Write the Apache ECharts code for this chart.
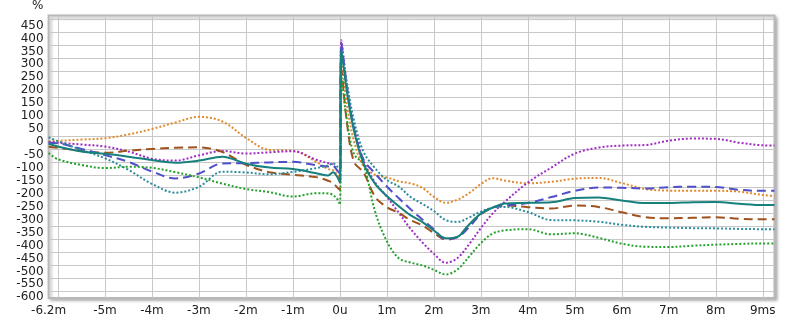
<!DOCTYPE html>
<html><head><meta charset="utf-8">
<script src="https://cdn.jsdelivr.net/npm/echarts@6/dist/echarts.min.js"></script>
<style>html,body{margin:0;padding:0;background:#fff}#c{width:800px;height:322px}</style>
</head><body><div id="c"></div>
<script>
const times = [-6.2, -6, -5.5, -5, -4.5, -4, -3.5, -3, -2.5, -2, -1.5, -1, -0.5, -0.25, -0.15, -0.05, 0, 0.03, 0.15, 0.3, 0.5, 0.75, 1, 1.25, 1.5, 1.75, 2, 2.25, 2.5, 2.75, 3, 3.25, 3.5, 4, 4.5, 5, 5.5, 6, 6.5, 7, 7.5, 8, 8.5, 9, 9.25];
const orangeDotted = [-22, -19, -14, -9, 6, 27, 52, 74, 56, -7, -54, -57, -100, -128, -131, -152, -158, 290, 120, -20, -115, -150, -160, -175, -183, -200, -235, -258, -246, -221, -186, -163, -172, -183, -177, -165, -162, -182, -205, -211, -212, -212, -215, -228, -232];
const purpleDotted = [-22, -26, -33, -41, -60, -88, -95, -75, -58, -68, -63, -59, -92, -105, -110, -135, -140, 370, 200, 40, -95, -180, -235, -296, -358, -410, -455, -490, -472, -418, -356, -300, -256, -180, -122, -68, -45, -37, -35, -18, -10, -11, -26, -36, -37];
const brownDashed = [-42, -46, -57, -65, -57, -50, -45, -44, -62, -111, -140, -150, -159, -173, -182, -200, -208, 260, 50, -100, -140, -235, -275, -297, -325, -345, -375, -400, -390, -343, -302, -277, -268, -275, -280, -269, -274, -295, -314, -318, -316, -314, -320, -322, -322];
const blueDashed = [-26, -28, -50, -74, -100, -137, -164, -145, -106, -105, -102, -100, -113, -118, -115, -135, -145, 360, 190, 30, -90, -145, -195, -240, -282, -322, -360, -398, -392, -352, -302, -275, -269, -259, -236, -212, -199, -200, -203, -198, -196, -197, -208, -212, -212];
const tealSolid = [-30, -41, -60, -69, -80, -93, -103, -95, -80, -107, -122, -128, -144, -153, -140, -160, -180, 335, 170, 20, -105, -185, -232, -271, -306, -332, -365, -395, -390, -342, -300, -277, -261, -258, -256, -240, -238, -249, -259, -259, -256, -255, -262, -267, -267];
const tealDotted = [-5, -20, -54, -86, -131, -185, -219, -196, -138, -141, -148, -139, -124, -114, -106, -120, -130, 320, 200, 60, -60, -125, -170, -195, -235, -262, -290, -325, -332, -315, -292, -277, -274, -294, -325, -326, -331, -343, -351, -354, -356, -357, -359, -360, -360];
const greenDotted = [-66, -90, -112, -124, -119, -123, -140, -160, -184, -205, -217, -234, -221, -222, -228, -245, -265, 230, 60, -70, -110, -293, -407, -472, -489, -500, -517, -535, -516, -466, -414, -377, -365, -360, -380, -376, -393, -416, -428, -429, -424, -420, -417, -415, -415];

const xLabelValues = [-6.2, -5, -4, -3, -2, -1, 0, 1, 2, 3, 4, 5, 6, 7, 8, 9];
const xLabelTexts = ['-6.2m', '-5m', '-4m', '-3m', '-2m', '-1m', '0u', '1m', '2m', '3m', '4m', '5m', '6m', '7m', '8m', '9ms'];
const xGridValues = [-6, -5, -4, -3, -2, -1, 0, 1, 2, 3, 4, 5, 6, 7, 8, 9];
const yTickValues = [-600, -550, -500, -450, -400, -350, -300, -250, -200, -150, -100, -50, 0, 50, 100, 150, 200, 250, 300, 350, 400, 450];
const yUnit = '%';

const FONT = 'DejaVu Sans';
function pts(vals) { return times.map((t, i) => [t, vals[i]]); }
function mk(name, vals, color, dash, z) {
  return {
    name, type: 'line', data: pts(vals), showSymbol: false, symbol: 'none',
    smooth: 0.35, z: z || 2,
    lineStyle: { color, width: 2, type: dash, cap: 'butt' }
  };
}
const DOT = [2, 2];
const DASH = [9, 5];

const chart = echarts.init(document.getElementById('c'), null, { renderer: 'canvas' });
chart.setOption({
  animation: false,
  backgroundColor: '#fff',
  grid: {
    left: 48.6, right: 25.5, top: 15.5, bottom: 24,
    show: true, backgroundColor: '#fff',
    borderColor: '#b8b8b8', borderWidth: 2,
    shadowColor: 'rgba(0,0,0,0.28)', shadowBlur: 3, shadowOffsetX: 2, shadowOffsetY: 2
  },
  graphic: [{
    type: 'text', left: 32, top: 0,
    style: { text: yUnit, font: '12px "DejaVu Sans"', fill: '#222' }
  }],
  xAxis: {
    type: 'value', min: -6.2, max: 9.25,
    axisLine: { show: false },
    axisTick: { show: false, customValues: xGridValues },
    splitLine: { show: true, lineStyle: { color: '#c8c8c8', width: 1 } },
    axisLabel: {
      customValues: xLabelValues, margin: 7,
      fontFamily: FONT, fontSize: 12, color: '#222',
      formatter: v => {
        const i = xLabelValues.findIndex(x => Math.abs(x - v) < 1e-6);
        return i >= 0 ? xLabelTexts[i] : '';
      }
    }
  },
  yAxis: {
    type: 'value', min: -626, max: 465.5,
    axisLine: { show: false },
    axisTick: { show: false, customValues: yTickValues },
    splitLine: { show: true, lineStyle: { color: '#c8c8c8', width: 1 } },
    axisLabel: {
      customValues: yTickValues, margin: 5,
      fontFamily: FONT, fontSize: 12, color: '#222',
      verticalAlign: 'top', lineHeight: 12
    }
  },
  series: [
    mk('orange', orangeDotted, '#e08a2c', DOT),
    mk('purple', purpleDotted, '#a02cc4', DOT),
    mk('brown', brownDashed, '#a0521e', DASH),
    mk('blue', blueDashed, '#4f4fc9', DASH),
    mk('tealDot', tealDotted, '#2b8c9a', DOT),
    mk('green', greenDotted, '#23a12a', DOT),
    mk('teal', tealSolid, '#16807d', 'solid', 3)
  ]
});
</script></body></html>
